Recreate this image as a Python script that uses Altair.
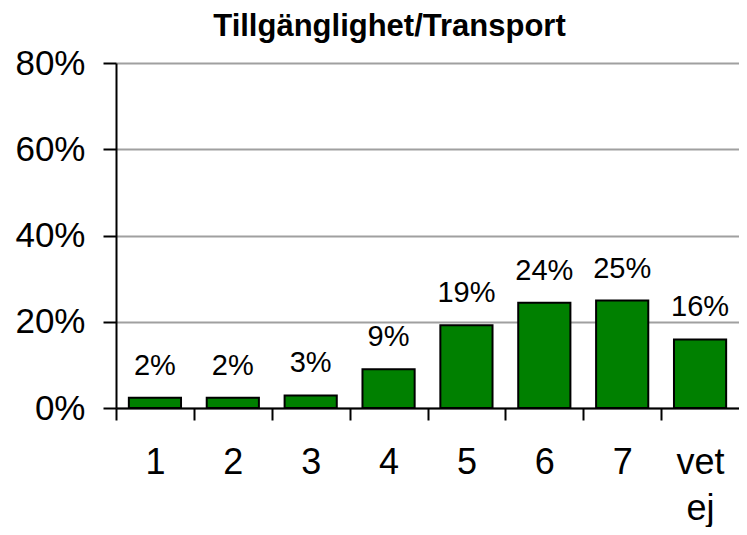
import altair as alt
import pandas as pd

categories = ["1", "2", "3", "4", "5", "6", "7", "vet ej"]
values = [0.024, 0.024, 0.029, 0.090, 0.192, 0.244, 0.249, 0.159]
labels = ["2%", "2%", "3%", "9%", "19%", "24%", "25%", "16%"]

df = pd.DataFrame({"cat": categories, "val": values, "label": labels})

FONT = "Liberation Sans"
W = 623
PAD_IN = 0.33
PAD_OUT = PAD_IN / 2
STEP = W / (len(categories) - PAD_IN + 2 * PAD_OUT)

x = alt.X(
    "cat:N", sort=categories, title=None,
    scale=alt.Scale(paddingInner=PAD_IN, paddingOuter=PAD_OUT),
    axis=alt.Axis(
        labelAngle=0, labelFont=FONT, labelFontSize=36, labelColor="black",
        labelExpr="datum.value == 'vet ej' ? ['vet', 'ej'] : datum.value",
        labelLineHeight=46, labelPadding=25,
        domainColor="black", domainWidth=2,
        tickColor="black", tickWidth=2, tickSize=12,
        tickOffset=-STEP / 2, labelOffset=STEP / 2,
        grid=False,
    ),
)
y = alt.Y(
    "val:Q", title=None,
    scale=alt.Scale(domain=[0, 0.8]),
    axis=alt.Axis(
        values=[0, 0.2, 0.4, 0.6, 0.8], format=".0%",
        labelFont=FONT, labelFontSize=35, labelColor="black", labelPadding=18,
        domainColor="black", domainWidth=2,
        tickColor="black", tickWidth=2, tickSize=13,
        grid=True, gridColor="#a0a0a0", gridWidth=2,
    ),
)

bars = alt.Chart(df).mark_bar(color="#008000", stroke="black", strokeWidth=2).encode(x=x, y=y)
text = alt.Chart(df).mark_text(
    baseline="alphabetic", dy=-23, fontSize=29, font=FONT, color="black"
).encode(x=alt.X("cat:N", sort=categories), y="val:Q", text="label:N")

chart = (
    alt.layer(bars, text)
    .properties(
        width=W, height=345,
        autosize=alt.AutoSizeParams(type="none"),
        padding={"left": 108, "top": 55, "right": 0, "bottom": 119},
        title=alt.TitleParams(
            "Tillgänglighet/Transport",
            font=FONT, fontSize=31, fontWeight="bold", color="black",
            offset=3, dx=-38,
        ),
        background="white",
    )
    .configure_view(stroke=None)
)

chart.save("out.html", embed_options={"renderer": "svg", "actions": False})
